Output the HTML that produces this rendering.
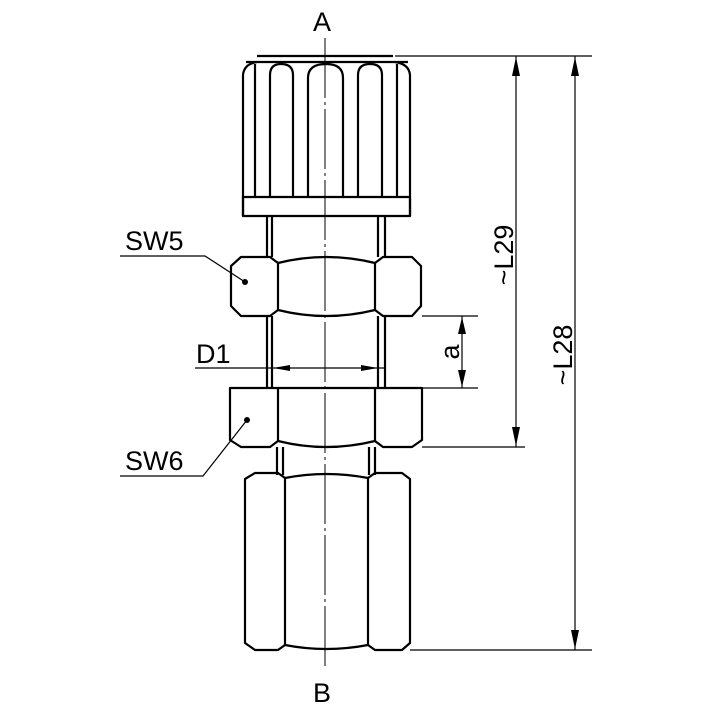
<!DOCTYPE html>
<html><head><style>body{margin:0;background:#fff}svg{display:block}</style></head><body>
<svg width="710" height="710" viewBox="0 0 710 710" xmlns="http://www.w3.org/2000/svg">
<g fill="none" stroke="#000" stroke-width="2.2" stroke-linejoin="round">
<!-- knob -->
<path d="M257,56 L393,56 M246,62 L408,62"/>
<path d="M243,216 L243,75 Q244,64 257,62 M410,216 L410,75 Q409,64 395,62"/>
<path d="M255,197 L255,64 M397,197 L397,64"/>
<path d="M270,197 L270,75 Q270,64 281,64 Q293,64 293,75 L293,197"/>
<path d="M308,197 L308,78 Q308,64 326,64 Q343,64 343,78 L343,197"/>
<path d="M358,197 L358,75 Q358,64 370,64 Q382,64 382,75 L382,197"/>
<rect x="243" y="197" width="167" height="19"/>
<!-- shaft -->
<path d="M267,216 V257 M272,216 V257 M378,216 V257 M385,216 V257"/>
<path d="M267,316 V388 M272,316 V388 M378,316 V388 M385,316 V388"/>
<!-- upper nut -->
<path d="M241,257 L270,257 L278,263 Q326,251 375,263 L383,257 L412,257 L421,266 L421,306 L412,316 L383,316 L375,310 Q326,322 278,310 L270,316 L241,316 L231,306 L231,266 Z"/>
<path d="M278,263 V310 M375,263 V310"/>
<!-- lower nut -->
<path d="M230,388 L422,388 L422,440 L412,447 L383,447 L375,441 Q326,453 278,441 L270,447 L241,447 L230,440 Z"/>
<path d="M278,388 V441 M375,388 V441"/>
<!-- neck -->
<path d="M277,447 V475 M283,447 V475 M369,447 V475 M375,447 V475"/>
<!-- bottom hex -->
<path d="M255,473 L278,473 L285,478 Q326,470 368,478 L375,473 L402,473 L410,479 L410,643 L402,650 L375,650 L368,645 Q326,653 285,645 L278,650 L255,650 L245,643 L245,479 Z"/>
<path d="M285,478 V645 M368,478 V645"/>
</g>
<!-- centerline -->
<line x1="325" y1="38" x2="325" y2="668" stroke="#000" stroke-width="1" stroke-dasharray="60,4,3,4"/>
<g stroke="#000" stroke-width="1.2" fill="none">
<path d="M395,56 H592 M422,316 H478 M422,388 H478 M422,447 H525 M410,650 H592"/>
<path d="M516,56 V447 M575,56 V650 M462,316 V388"/>
<path d="M120,256 H205 L245,282 M120,476 H203 L247,420 M195,368 H385"/>
</g>
<g fill="#000">
<path d="M516,57 L512,76 L520,76 Z M516,446 L512,427 L520,427 Z"/>
<path d="M575,57 L571,76 L579,76 Z M575,649 L571,630 L579,630 Z"/>
<path d="M462,317 L458,334 L466,334 Z M462,387 L458,370 L466,370 Z"/>
<path d="M273,368 L290,365 L290,371 Z M378,368 L361,365 L361,371 Z"/>
<circle cx="245" cy="282" r="3"/><circle cx="247" cy="420" r="3"/>
</g>
<g font-family="Liberation Sans, sans-serif" font-size="27" fill="#000">
<text x="313" y="31">A</text>
<text x="313" y="702">B</text>
<text x="125" y="250">SW5</text>
<text x="125" y="470">SW6</text>
<text x="196" y="363">D1</text>
<text transform="translate(459,352) rotate(-90)" text-anchor="middle">a</text>
<text transform="translate(513,255) rotate(-90)" text-anchor="middle">~L29</text>
<text transform="translate(572,355) rotate(-90)" text-anchor="middle">~L28</text>
</g>
</svg>
</body></html>
